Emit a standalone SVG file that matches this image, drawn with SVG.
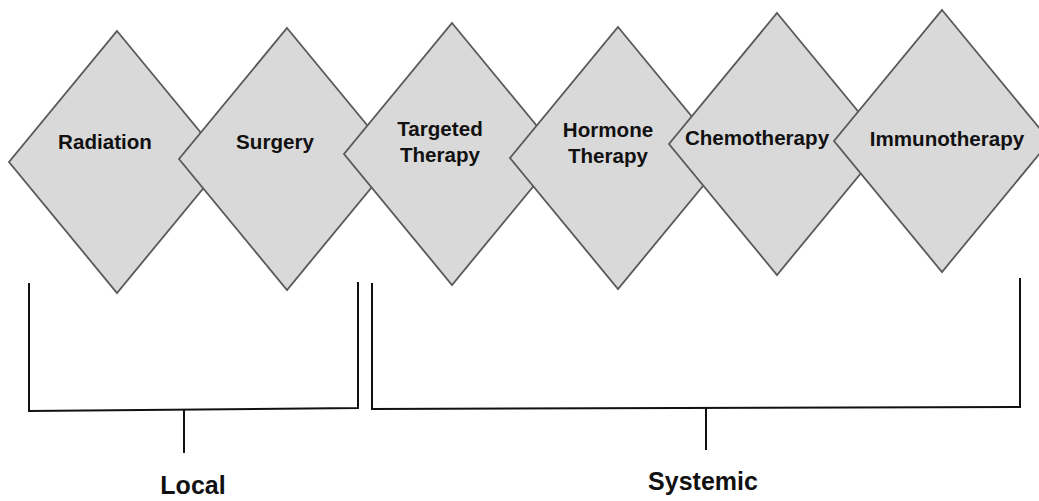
<svg xmlns="http://www.w3.org/2000/svg" width="1039" height="501" viewBox="0 0 1039 501">
<style>
.d{fill:#d9d9d9;stroke:#595959;stroke-width:1.8}
.t{font-family:"Liberation Sans",Arial,sans-serif;font-weight:bold;font-size:20.6px;fill:#111;text-anchor:middle}
.b{font-family:"Liberation Sans",Arial,sans-serif;font-weight:bold;font-size:25px;fill:#111;text-anchor:middle}
.c{fill:none;stroke:#111;stroke-width:2}
</style>
<rect width="1039" height="501" fill="#fff"/>
<g id="radiation">
<polygon class="d" points="117,31 225,162 117,293 9,162"/>
<text class="t" x="105" y="149">Radiation</text>
</g>
<g id="surgery">
<polygon class="d" points="287,28 395,159 287,290 179,159"/>
<text class="t" x="275" y="149">Surgery</text>
</g>
<g id="targeted">
<polygon class="d" points="452,23 560,154 452,285 344,154"/>
<text class="t" x="440" y="136">Targeted</text>
<text class="t" x="440" y="162">Therapy</text>
</g>
<g id="hormone">
<polygon class="d" points="618,27 726,158 618,289 510,158"/>
<text class="t" x="608" y="137">Hormone</text>
<text class="t" x="608" y="163">Therapy</text>
</g>
<g id="chemotherapy">
<polygon class="d" points="777,13 885,144 777,275 669,144"/>
<text class="t" x="757" y="145">Chemotherapy</text>
</g>
<g id="immunotherapy">
<polygon class="d" points="942,10 1050,141 942,272 834,141"/>
<text class="t" x="947" y="146">Immunotherapy</text>
</g>
<g id="connectors">
<path class="c" d="M29,283 V411 L358,408 V282"/>
<path class="c" d="M184,410 V453"/>
<path class="c" d="M372,283 V409 L1020,407 V278"/>
<path class="c" d="M706,408 V450"/>
</g>
<g id="local"><text class="b" x="193" y="494">Local</text></g>
<g id="systemic"><text class="b" x="703" y="490">Systemic</text></g>
</svg>
